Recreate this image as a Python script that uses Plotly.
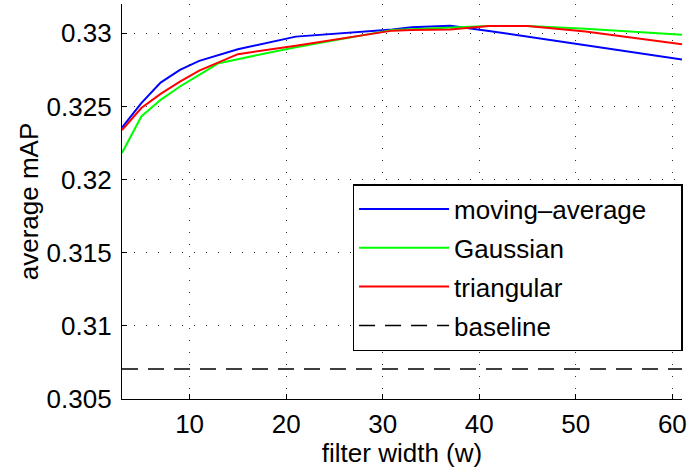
import plotly.graph_objects as go

# filter widths
widths = [3, 5, 7, 9, 11, 13, 15, 21, 31, 33, 37, 41, 45, 51, 61]

moving_average = [0.32355, 0.32522, 0.32663, 0.32750, 0.32811, 0.32852, 0.32891,
                  0.32977, 0.33025, 0.33041, 0.33052, 0.33016, 0.32977, 0.32920, 0.32820]
gaussian = [0.32182, 0.32431, 0.32545, 0.32636, 0.32716, 0.32795, 0.32823,
            0.32905, 0.33023, 0.33028, 0.33040, 0.33050, 0.33050, 0.33030, 0.32990]
triangular = [0.32338, 0.32489, 0.32586, 0.32670, 0.32745, 0.32800, 0.32857,
              0.32915, 0.33018, 0.33022, 0.33025, 0.33050, 0.33050, 0.33012, 0.32925]
baseline_x = [3, 61]
baseline_y = [0.30705, 0.30705]

x_ticks = [10, 20, 30, 40, 50, 60]
y_ticks = [0.305, 0.31, 0.315, 0.32, 0.325, 0.33]
y_tick_text = ["0.305", "0.31", "0.315", "0.32", "0.325", "0.33"]

FONT = "Liberation Sans, Arial, Helvetica, sans-serif"
PAD = "\u00a0" * 4

fig = go.Figure()
fig.add_trace(go.Scatter(x=widths, y=moving_average, mode="lines", name="moving\u2013average" + PAD,
                         line=dict(color="#0000FF", width=2), legendgroup="a"))
fig.add_trace(go.Scatter(x=widths, y=gaussian, mode="lines", name="Gaussian",
                         line=dict(color="#00FF00", width=2), legendgroup="b"))
fig.add_trace(go.Scatter(x=widths, y=triangular, mode="lines", name="triangular",
                         line=dict(color="#FF0000", width=2), legendgroup="c"))
fig.add_trace(go.Scatter(x=baseline_x, y=baseline_y, mode="lines", name="baseline",
                         line=dict(color="#000000", width=1.5, dash="16px,10px"), legendgroup="d"))

axis_common = dict(
    showline=True, linecolor="black", linewidth=1.3, mirror=False,
    ticks="inside", ticklen=5, tickcolor="black", tickwidth=1,
    showgrid=True, gridcolor="#333333", gridwidth=1, griddash="1px,11px",
    zeroline=False, tickfont=dict(family=FONT, size=26, color="black"),
    ticklabeloverflow="allow",
)

fig.update_xaxes(range=[3, 61], tickvals=x_ticks, ticklabelstandoff=2,
                 title=dict(text="filter width (w)", font=dict(family=FONT, size=26, color="black"), standoff=6),
                 **axis_common)
fig.update_yaxes(range=[0.305, 0.332], tickvals=y_ticks, ticktext=y_tick_text, ticklabelstandoff=4,
                 title=dict(text="average mAP", font=dict(family=FONT, size=26, color="black"), standoff=0),
                 **axis_common)

fig.update_layout(
    width=691, height=468,
    margin=dict(l=122, r=4, t=4, b=69),
    plot_bgcolor="white", paper_bgcolor="white",
    font=dict(family=FONT, size=26, color="black"),
    legend=dict(x=0.4117, y=0.544, xanchor="left", yanchor="top",
                bgcolor="white", bordercolor="black", borderwidth=1.5,
                font=dict(family=FONT, size=26, color="black"),
                tracegroupgap=2, itemwidth=90),
)

fig.write_html("out.html")
